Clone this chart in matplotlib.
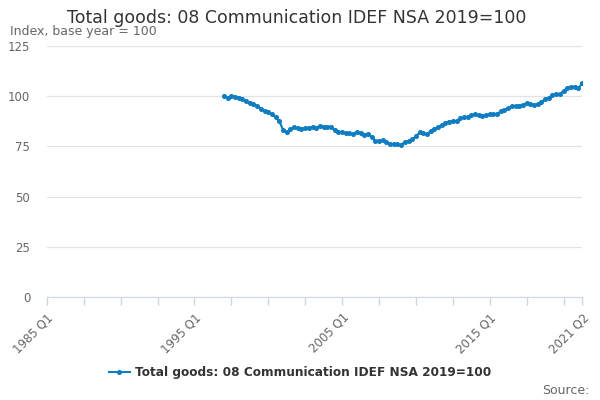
import matplotlib
matplotlib.use("Agg")
import matplotlib.pyplot as plt
import numpy as np

# quarterly index, 1997 Q1 .. 2021 Q2
start_year = 1997
values = [
    100.2, 99.2, 100.0, 99.8, 99.3, 98.8, 97.5, 96.6, 96.1, 95.0,
    93.8, 92.5, 92.0, 90.9, 89.6, 87.5, 83.3, 82.0, 83.5, 84.7,
    84.1, 83.9, 84.0, 84.4, 84.6, 84.3, 85.2, 84.7, 84.8, 84.8,
    83.1, 82.4, 82.0, 81.7, 81.5, 81.3, 82.2, 81.6, 80.5, 81.4,
    79.8, 77.8, 77.8, 78.0, 77.0, 76.4, 76.2, 76.1, 75.9, 77.2,
    77.6, 78.5, 80.0, 82.0, 81.5, 81.0, 82.8, 83.9, 84.6, 85.6,
    86.8, 87.4, 87.6, 87.7, 89.0, 89.4, 89.8, 90.4, 91.0, 90.5,
    90.3, 90.5, 91.1, 91.1, 91.2, 92.4, 93.2, 94.0, 94.9, 95.2,
    95.3, 95.8, 96.5, 96.0, 95.7, 96.0, 97.3, 98.4, 99.3, 100.6,
    100.9, 100.9, 102.8, 104.0, 104.7, 104.7, 103.9, 106.4,
]
tick_labels = {0: "1985 Q1", 40: "1995 Q1", 80: "2005 Q1", 120: "2015 Q1", 145: "2021 Q2"}
series_name = "Total goods: 08 Communication IDEF NSA 2019=100"

# quarter index counted from 1985 Q1
q = np.arange(len(values)) + (start_year - 1985) * 4

fig = plt.figure(figsize=(6, 4), dpi=100)
ax = fig.add_axes([0.078, 0.2575, 0.892, 0.6275])

line_col = "#0f7dc2"
ax.plot(q, values, color=line_col, lw=1.5, marker="o", ms=2.6, label=series_name)

ax.set_xlim(0, 145)
ax.set_ylim(0, 125)
ax.set_yticks([0, 25, 50, 75, 100, 125])
ax.yaxis.grid(True, color="#e3e3e3", lw=0.9)
ax.set_axisbelow(True)

major = list(range(0, 141, 10)) + [145]
ax.set_xticks(major)
ax.set_xticklabels([tick_labels.get(t, "") for t in major], rotation=45,
                   ha="right", rotation_mode="anchor", color="#666666", fontsize=8.5)
ax.tick_params(axis="x", length=6, color="#ccd6eb", width=1, pad=4)
ax.tick_params(axis="y", length=0, labelcolor="#666666", labelsize=8.5, pad=12)

for s in ["top", "right", "left"]:
    ax.spines[s].set_visible(False)
ax.spines["bottom"].set_color("#ccd6eb")

fig.text(0.495, 0.955, series_name, ha="center", va="center", fontsize=12.5, color="#333333")
fig.text(0.017, 0.92, "Index, base year = 100", ha="left", va="center", fontsize=9, color="#666666")

leg = fig.legend(loc="center", bbox_to_anchor=(0.5, 0.068), frameon=False,
                 prop={"weight": "bold", "size": 8.7}, handlelength=1.8, handletextpad=0.4)
for t in leg.get_texts():
    t.set_color("#333333")

fig.text(0.982, 0.025, "Source:", ha="right", va="center", fontsize=9, color="#666666")

fig.savefig("out.png", dpi=100)
